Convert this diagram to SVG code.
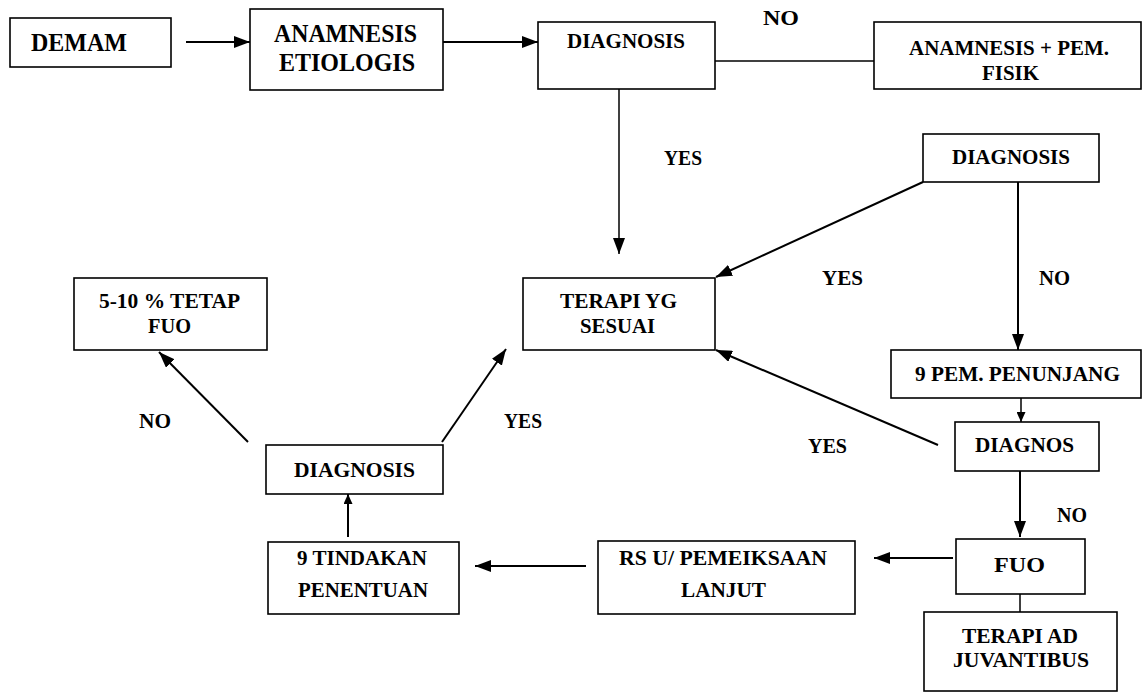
<svg xmlns="http://www.w3.org/2000/svg" width="1144" height="694" viewBox="0 0 1144 694">
<style>
.box{fill:#fff;stroke:#000;stroke-width:1.6}
.t{font-family:'Liberation Serif','Times New Roman','DejaVu Serif',serif;font-weight:700;font-size:22px;fill:#000;text-anchor:middle}
.big{font-size:26px}
.c{stroke:#000;stroke-width:2;fill:none}
.thin{stroke:#000;stroke-width:1.5;fill:none}
</style>
<defs>
<marker id="ah" markerUnits="userSpaceOnUse" markerWidth="16" markerHeight="12" refX="16" refY="6" orient="auto">
<path d="M0,0 L16,6 L0,12 Z" fill="#000"/>
</marker>
<marker id="ahs" markerUnits="userSpaceOnUse" markerWidth="10" markerHeight="9" refX="10" refY="4.5" orient="auto">
<path d="M0,0 L10,4.5 L0,9 Z" fill="#000"/>
</marker>
</defs>
<rect width="1144" height="694" fill="#fff"/>
<g id="connectors">
<line class="c" x1="186" y1="42" x2="250" y2="42" marker-end="url(#ah)"/>
<line class="c" x1="443" y1="42" x2="538" y2="42" marker-end="url(#ah)"/>
<line class="thin" x1="715" y1="61" x2="874" y2="61"/>
<line class="thin" x1="619" y1="89" x2="619" y2="254" marker-end="url(#ah)"/>
<line class="c" x1="923" y1="182" x2="716" y2="277" marker-end="url(#ah)"/>
<line class="c" x1="1018" y1="182" x2="1018" y2="350" marker-end="url(#ah)"/>
<line class="thin" x1="1021" y1="398" x2="1021" y2="422" marker-end="url(#ahs)"/>
<line class="c" x1="938" y1="445" x2="716" y2="350" marker-end="url(#ah)"/>
<line class="c" x1="1020" y1="471" x2="1020" y2="537" marker-end="url(#ah)"/>
<line class="c" x1="953" y1="558" x2="874" y2="558" marker-end="url(#ah)"/>
<line class="c" x1="586" y1="566" x2="475" y2="566" marker-end="url(#ah)"/>
<line class="c" x1="348" y1="537" x2="348" y2="494" marker-end="url(#ahs)"/>
<line class="c" x1="248" y1="442" x2="159" y2="352" marker-end="url(#ah)"/>
<line class="c" x1="442" y1="442" x2="506" y2="349" marker-end="url(#ah)"/>
<line class="thin" x1="1020" y1="594" x2="1020" y2="612"/>
</g>
<g id="labels">
<text class="t" x="781" y="25" textLength="36" lengthAdjust="spacingAndGlyphs">NO</text>
<text class="t" x="683" y="165" textLength="38" lengthAdjust="spacingAndGlyphs">YES</text>
<text class="t" x="842.5" y="285" textLength="41" lengthAdjust="spacingAndGlyphs">YES</text>
<text class="t" x="1054.5" y="285" textLength="31" lengthAdjust="spacingAndGlyphs">NO</text>
<text class="t" x="827.5" y="453" textLength="39" lengthAdjust="spacingAndGlyphs">YES</text>
<text class="t" x="155" y="428" textLength="32" lengthAdjust="spacingAndGlyphs">NO</text>
<text class="t" x="523" y="428" textLength="38" lengthAdjust="spacingAndGlyphs">YES</text>
<text class="t" x="1072" y="522" textLength="30" lengthAdjust="spacingAndGlyphs">NO</text>
</g>
<g id="demam">
<rect class="box" x="10" y="18" width="161" height="49"/>
<text class="t big" x="79" y="51" textLength="96" lengthAdjust="spacingAndGlyphs">DEMAM</text>
</g>
<g id="anamnesis-etiologis">
<rect class="box" x="250" y="9" width="193" height="81"/>
<text class="t big" x="345.5" y="42" textLength="143" lengthAdjust="spacingAndGlyphs">ANAMNESIS</text>
<text class="t big" x="347" y="71" textLength="136" lengthAdjust="spacingAndGlyphs">ETIOLOGIS</text>
</g>
<g id="diagnosis-1">
<rect class="box" x="538" y="22" width="177" height="67"/>
<text class="t" x="626" y="48" textLength="118" lengthAdjust="spacingAndGlyphs">DIAGNOSIS</text>
</g>
<g id="anamnesis-pem-fisik">
<rect class="box" x="874" y="22" width="267" height="67"/>
<text class="t" x="1009" y="55" textLength="200" lengthAdjust="spacingAndGlyphs">ANAMNESIS + PEM.</text>
<text class="t" x="1010.5" y="80" textLength="57" lengthAdjust="spacingAndGlyphs">FISIK</text>
</g>
<g id="diagnosis-2">
<rect class="box" x="923" y="134" width="176" height="48"/>
<text class="t" x="1011" y="164" textLength="118" lengthAdjust="spacingAndGlyphs">DIAGNOSIS</text>
</g>
<g id="terapi-yg-sesuai">
<rect class="box" x="523" y="278" width="192" height="72"/>
<text class="t" x="618.5" y="308" textLength="117" lengthAdjust="spacingAndGlyphs">TERAPI YG</text>
<text class="t" x="617.5" y="333" textLength="75" lengthAdjust="spacingAndGlyphs">SESUAI</text>
</g>
<g id="pem-penunjang">
<rect class="box" x="891" y="350" width="250" height="48"/>
<text class="t" x="1017.5" y="381" textLength="205" lengthAdjust="spacingAndGlyphs">9 PEM. PENUNJANG</text>
</g>
<g id="diagnos">
<rect class="box" x="955" y="422" width="144" height="49"/>
<text class="t" x="1024.5" y="452" textLength="99" lengthAdjust="spacingAndGlyphs">DIAGNOS</text>
</g>
<g id="tetap-fuo">
<rect class="box" x="74" y="278" width="193" height="72"/>
<text class="t" x="169.5" y="308" textLength="141" lengthAdjust="spacingAndGlyphs">5-10 % TETAP</text>
<text class="t" x="169.5" y="333" textLength="43" lengthAdjust="spacingAndGlyphs">FUO</text>
</g>
<g id="diagnosis-3">
<rect class="box" x="266" y="445" width="177" height="49"/>
<text class="t" x="354.5" y="477" textLength="121" lengthAdjust="spacingAndGlyphs">DIAGNOSIS</text>
</g>
<g id="tindakan-penentuan">
<rect class="box" x="268" y="542" width="191" height="72"/>
<text class="t" x="362" y="565" textLength="130" lengthAdjust="spacingAndGlyphs">9 TINDAKAN</text>
<text class="t" x="363" y="597" textLength="130" lengthAdjust="spacingAndGlyphs">PENENTUAN</text>
</g>
<g id="rs-pemeriksaan">
<rect class="box" x="598" y="541" width="257" height="73"/>
<text class="t" x="723" y="565" textLength="208" lengthAdjust="spacingAndGlyphs">RS U/ PEMEIKSAAN</text>
<text class="t" x="723.5" y="597" textLength="85" lengthAdjust="spacingAndGlyphs">LANJUT</text>
</g>
<g id="fuo">
<rect class="box" x="956" y="539" width="129" height="55"/>
<text class="t" x="1019.5" y="572" textLength="51" lengthAdjust="spacingAndGlyphs">FUO</text>
</g>
<g id="terapi-ad-juvantibus">
<rect class="box" x="924" y="612" width="193" height="79"/>
<text class="t" x="1020" y="643" textLength="116" lengthAdjust="spacingAndGlyphs">TERAPI AD</text>
<text class="t" x="1021" y="667" textLength="136" lengthAdjust="spacingAndGlyphs">JUVANTIBUS</text>
</g>
</svg>
